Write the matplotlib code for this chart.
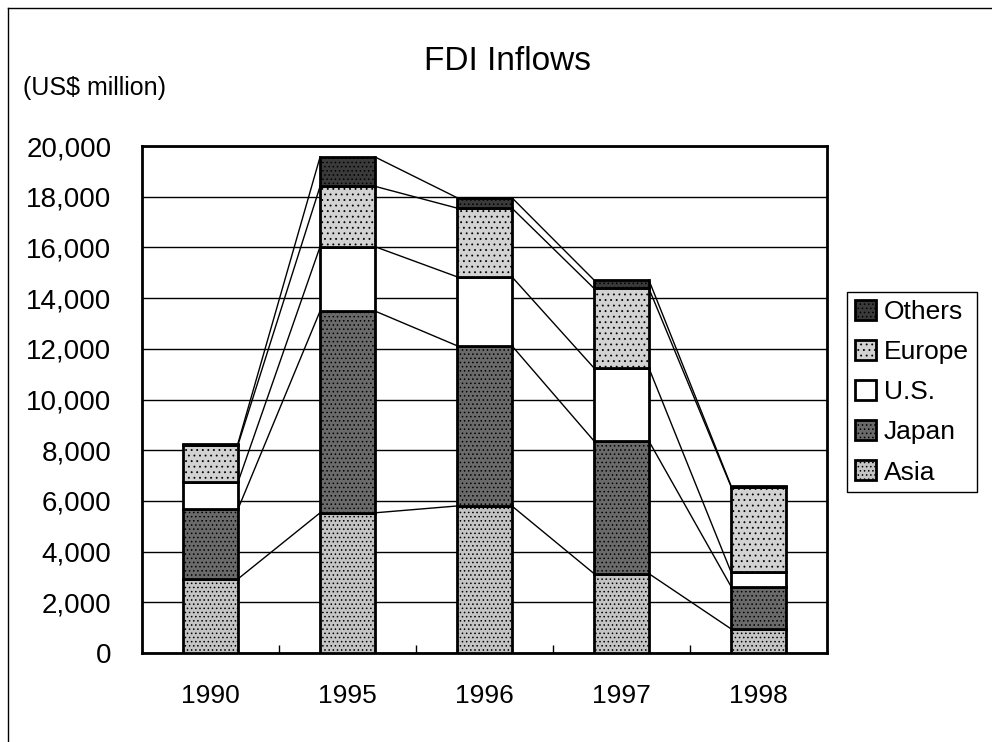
import numpy as np
import matplotlib
matplotlib.use("Agg")
import matplotlib.pyplot as plt
from matplotlib.lines import Line2D
from matplotlib.ticker import StrMethodFormatter, FixedLocator

years = ["1990", "1995", "1996", "1997", "1998"]
asia = [2920, 5530, 5800, 3130, 950]
japan = [2750, 7960, 6320, 5230, 1670]
us = [1060, 2540, 2720, 2880, 570]
europe = [1470, 2380, 2710, 3140, 3370]
others = [60, 1160, 410, 330, 30]

series = [("Asia", asia), ("Japan", japan), ("U.S.", us),
          ("Europe", europe), ("Others", others)]
faces = {"Asia": "#c4c4c4", "Japan": "#6a6a6a", "U.S.": "white",
         "Europe": "#d2d2d2", "Others": "#3a3a3a"}
hatches = {"Asia": "....", "Japan": "....", "U.S.": None,
           "Europe": "...", "Others": "...."}

plt.rcParams["font.family"] = ["Liberation Sans", "DejaVu Sans"]
plt.rcParams["hatch.linewidth"] = 0.6

fig = plt.figure(figsize=(9.92, 7.42), dpi=100)
ax = fig.add_axes([142/992, 1-653/742, (827-142)/992, (653-146)/742])

x = np.arange(len(years))
w = 0.4
bottom = np.zeros(len(years))
handles = []
tops = []
for name, vals in series:
    vals = np.array(vals, dtype=float)
    b = ax.bar(x, vals, w, bottom=bottom, color=faces[name],
               edgecolor="black", linewidth=2, hatch=hatches[name],
               label=name, zorder=3)
    handles.append(b)
    bottom = bottom + vals
    tops.append(bottom.copy())

# series lines between bars
for t in tops:
    for i in range(len(years) - 1):
        ax.plot([x[i] + w/2, x[i+1] - w/2], [t[i], t[i+1]],
                color="black", lw=1, zorder=2)

ax.set_xlim(-0.5, len(years) - 0.5)
ax.set_ylim(0, 20000)
ax.set_yticks(np.arange(0, 20001, 2000))
ax.yaxis.set_major_formatter(StrMethodFormatter("{x:,.0f}"))
ax.set_xticks(x)
ax.set_xticklabels(years)
ax.xaxis.set_minor_locator(FixedLocator(x[:-1] + 0.5))
ax.tick_params(axis="x", which="major", length=0, pad=22, labelsize=19)
ax.tick_params(axis="x", which="minor", direction="in", length=6, width=1)
ax.tick_params(axis="y", length=0, pad=22, labelsize=20)
ax.grid(axis="y", color="black", lw=1, zorder=1)
ax.set_axisbelow(True)
for s in ax.spines.values():
    s.set_linewidth(2)

fig.text(508/992, 1-62/742, "FDI Inflows", ha="center", va="center", fontsize=24)
fig.text(23/992, 1-88/742, "(US$ million)", ha="left", va="center", fontsize=18)

leg = fig.legend(handles[::-1], [n for n, _ in series][::-1],
                 loc="upper left", bbox_to_anchor=(847/992, 1-292/742),
                 fontsize=19, frameon=True, fancybox=False, framealpha=1,
                 edgecolor="black", handlelength=0.8, handleheight=0.8,
                 handletextpad=0.3, labelspacing=0.6, borderpad=0.3,
                 borderaxespad=0)
leg.get_frame().set_linewidth(1)

fig.add_artist(Line2D([8/992, 1], [1-8/742, 1-8/742], color="black", lw=1))
fig.add_artist(Line2D([8/992, 8/992], [0, 1-8/742], color="black", lw=1))

fig.savefig("out.png", dpi=100)
